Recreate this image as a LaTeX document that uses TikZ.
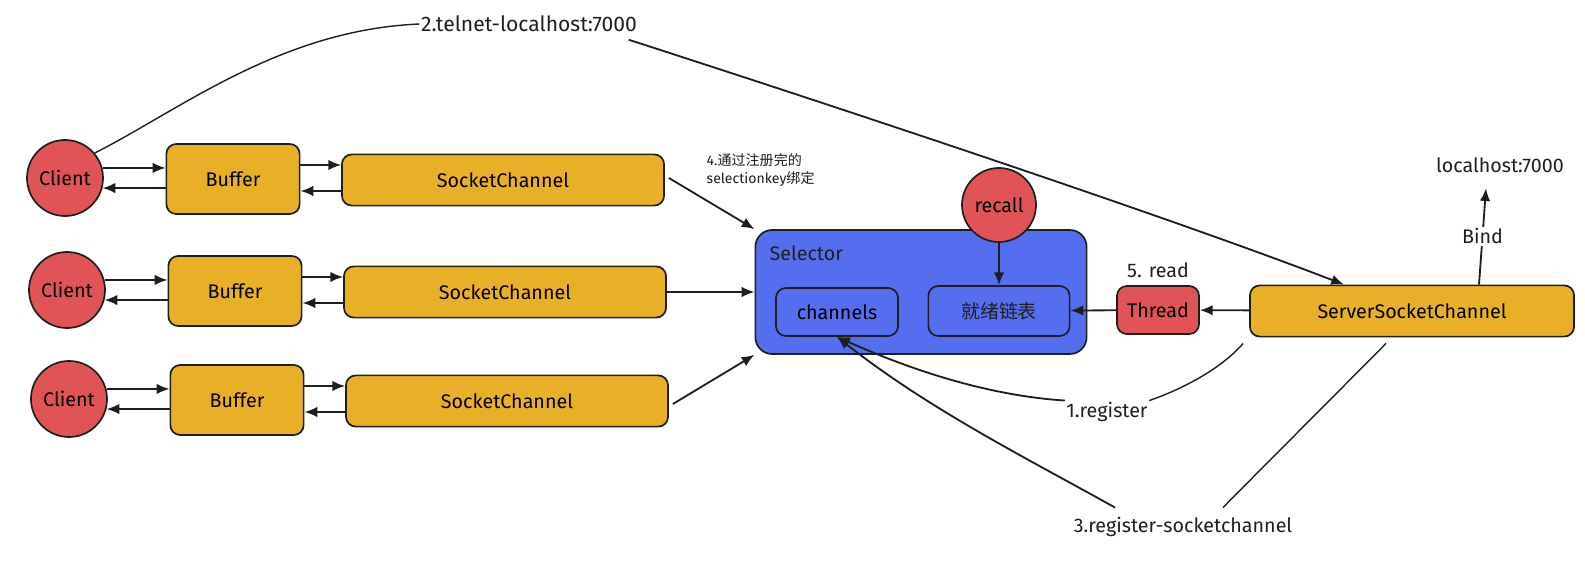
\documentclass[tikz,border=0pt]{standalone}
\usepackage{fontspec}
\setmainfont{Fira Sans}
\newfontfamily\cjk{Noto Sans CJK SC}
\usetikzlibrary{arrows.meta,calc}
\definecolor{rosy}{RGB}{224,84,87}
\definecolor{gold}{RGB}{231,176,38}
\definecolor{iris}{RGB}{85,110,240}
\definecolor{ink}{RGB}{30,30,30}
\tikzset{
  >={Latex[length=3.2mm,width=2.6mm]},
  peer/.style={circle,draw=ink,fill=rosy,line width=1.2pt,minimum size=1.9cm,
    inner sep=0pt,font=\fontsize{14}{17}\selectfont},
  slot/.style={draw=ink,fill=#1,line width=1.2pt,rounded corners=7pt,
    inner sep=0pt,font=\fontsize{14}{17}\selectfont},
  slot/.default=gold,
  link/.style={->,line width=1.3pt,draw=ink},
  wire/.style={line width=1pt,draw=ink},
  tag/.style={font=\fontsize{14}{17}\selectfont,text=ink,inner sep=1pt},
}

\begin{document}
\begin{tikzpicture}[x=0.025cm,y=-0.025cm]
  \useasboundingbox (0,0) rectangle (1585,583);
  % client rows
  \foreach \r/\y/\dx in {1/178/0,2/290/2,3/399/4}{
    \node[peer] (cl\r) at (65+\dx,\y) {Client};
    \node[slot,minimum width=3.33cm,minimum height=1.75cm] (buf\r) at (233+\dx,\y+1) {Buffer};
    \node[slot,minimum width=8.05cm,minimum height=1.28cm] (sc\r) at (503+\dx,\y+2) {SocketChannel};
    \draw[link] (cl\r.15) -- (buf\r.west |- cl\r.15);
    \draw[link] (buf\r.west |- cl\r.-15) -- (cl\r.-15);
    \draw[link] ([shift={(0,-14)}]buf\r.east) -- ([shift={(0,-14)}]buf\r.east -| sc\r.west);
    \draw[link] ([shift={(0,12)}]buf\r.east -| sc\r.west) -- ([shift={(0,12)}]buf\r.east);
  }
  % selector
  \node[slot=iris,minimum width=8.28cm,minimum height=3.1cm,rounded corners=12pt] (selector) at (921,292) {};
  \node[tag,anchor=west] (seltag) at (768,253) {Selector};
  \node[slot=iris,minimum width=3.05cm,minimum height=1.2cm] (chans) at (837,312) {channels};
  \node[slot=iris,minimum width=3.53cm,minimum height=1.25cm,text=ink] (ready) at (999,311) {\cjk\fontsize{13.5}{16}\selectfont 就绪链表};
  \node[peer,minimum size=1.85cm] (recall) at (999,205) {recall};
  \node[slot=rosy,minimum width=2.05cm,minimum height=1.2cm] (thread) at (1158,310) {Thread};
  \node[slot,minimum width=8.1cm,minimum height=1.28cm] (ssc) at (1412,311) {ServerSocketChannel};
  % labels
  \node[tag,font=\fontsize{15}{18}\selectfont] (tel) at (529,24) {2.telnet-localhost:7000};
  \node[tag] (host) at (1500,165) {localhost:7000};
  \node[tag] (rd) at (1158,270) {5. read};
  \node[tag] (reg1) at (1107,412) {1.register};
  \node[tag] (reg3) at (1183,527) {3.register-socketchannel};
  \node[tag,font=\fontsize{10}{13}\selectfont,anchor=west,align=left] (bindkey) at (705,170) {4.{\cjk 通过注册完的}\\selectionkey{\cjk 绑定}};
  % connectors
  \draw[wire] (cl1.40) .. controls (180,110) and (280,30) .. (tel.west);
  \draw[link] ([shift={(-10,6)}]tel.south east) .. controls (800,95) and (1150,210) .. ([shift={(-68,0)}]ssc.north);
  \draw[link] ([shift={(4,-2)}]sc1.east) -- (selector.north west);
  \draw[link] (sc2.east) -- (selector.west |- sc2.east);
  \draw[link] ([shift={(4,3)}]sc3.east) -- (selector.south west);
  \draw[link] (recall) -- (ready);
  \draw[link] (thread) -- (ready);
  \draw[link] (ssc) -- (thread);
  \draw[link] ([shift={(67,0)}]ssc.north) -- node[tag,fill=white]{Bind} ([shift={(-14,14)}]host.south);
  \draw[wire] ([shift={(-6,6)}]ssc.south west) .. controls (1220,370) and (1180,390) .. (reg1.north east);
  \draw[link] (reg1.north west) .. controls (980,395) and (900,365) .. (chans.south);
  \draw[wire] ([shift={(-26,6)}]ssc.south) .. controls (1320,410) and (1260,470) .. ([shift={(40,-8)}]reg3.north);
  \draw[link] ([shift={(-68,-8)}]reg3.north) .. controls (1030,460) and (930,410) .. (chans.south);
\end{tikzpicture}
\end{document}
